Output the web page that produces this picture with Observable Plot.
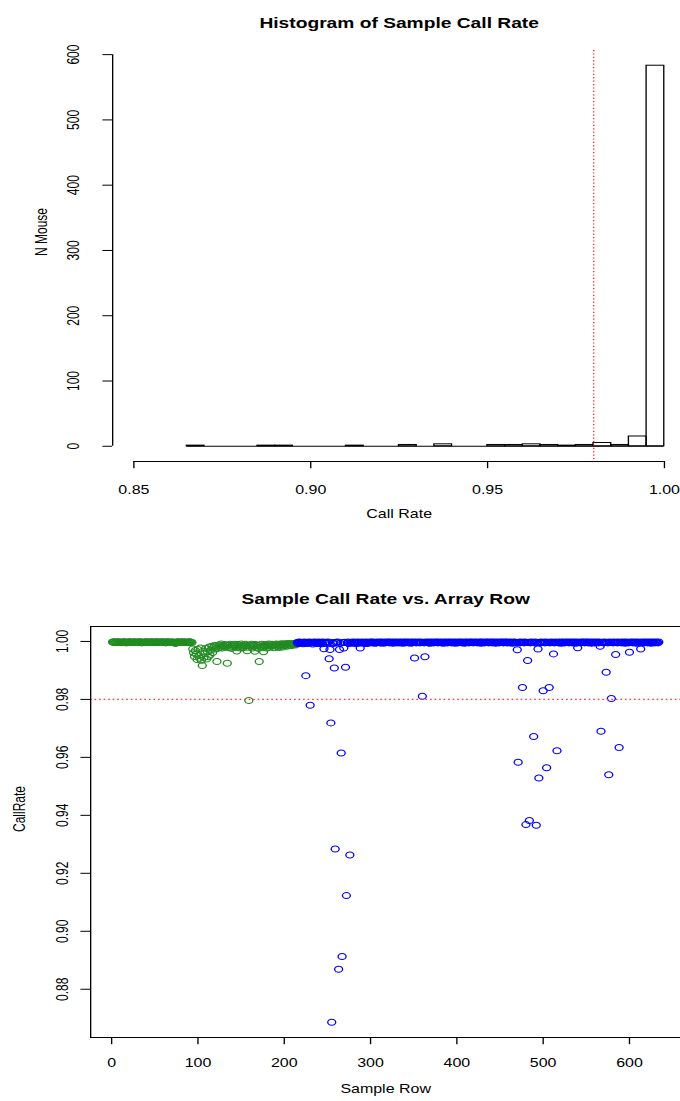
<!DOCTYPE html>
<html>
<head>
<meta charset="utf-8">
<script src="https://cdn.jsdelivr.net/npm/d3@7"></script>
<script src="https://cdn.jsdelivr.net/npm/@observablehq/plot@0.6"></script>
<style>
html, body { margin: 0; padding: 0; background: #ffffff; }
#chart { width: 680px; }
#chart svg { display: block; }
</style>
</head>
<body>
<div id="chart"></div>
<script>
// ---------------- Histogram data ----------------
const histTitle = "Histogram of Sample Call Rate";
const histXLabel = "Call Rate";
const histYLabel = "N Mouse";
const histBinEdges = [0.865, 0.870, 0.875, 0.880, 0.885, 0.890, 0.895, 0.900, 0.905, 0.910,
  0.915, 0.920, 0.925, 0.930, 0.935, 0.940, 0.945, 0.950, 0.955, 0.960,
  0.965, 0.970, 0.975, 0.980, 0.985, 0.990, 0.995, 1.000];
const histCounts = [1, 0, 0, 0, 1, 1, 0, 0, 0, 1,
  0, 0, 2, 0, 3, 0, 0, 2, 2, 3,
  2, 1, 2, 5, 2, 15, 583];
const histXLim = [0.85, 1.00];
const histXTicks = [0.85, 0.90, 0.95, 1.00];
const histYTicks = [0, 100, 200, 300, 400, 500, 600];
const callRateCutoff = 0.98;

// ---------------- Scatter data ----------------
const scatterTitle = "Sample Call Rate vs. Array Row";
const scatterXLabel = "Sample Row";
const scatterYLabel = "CallRate";
const scatterXTicks = [0, 100, 200, 300, 400, 500, 600];
const scatterYTicks = [0.88, 0.90, 0.92, 0.94, 0.96, 0.98, 1.00];
const arraySizes = [214, 420];           // rows per array (green, blue)
const arrayColors = ["#228B22", "#0000FF"];
// call rate per sample row (row = position + 1)
const callRate = [
  .9998,.9997,.9999,.9996,.9998,.9997,.9998,.9999,.9997,.9996, // 1-10
  .9997,.9998,.9996,.9999,.9998,.9997,.9995,.9998,.9997,.9998, // 11-20
  .9999,.9997,.9998,.9996,.9997,.9998,.9999,.9997,.9996,.9998, // 21-30
  .9997,.9998,.9999,.9997,.9995,.9998,.9997,.9996,.9998,.9999, // 31-40
  .9998,.9997,.9996,.9998,.9997,.9999,.9998,.9996,.9997,.9998, // 41-50
  .9997,.9999,.9998,.9996,.9997,.9998,.9997,.9999,.9996,.9998, // 51-60
  .9998,.9997,.9995,.9998,.9999,.9997,.9996,.9998,.9997,.9998, // 61-70
  .9997,.9998,.9996,.9993,.9997,.9998,.9999,.9997,.9996,.9998, // 71-80
  .9998,.9997,.9999,.9996,.9998,.9997,.9998,.9996,.9997,.9999, // 81-90
  .9998,.9997,.9996,.9974,.9961,.9948,.9969,.9956,.9938,.9972, // 91-100
  .9951,.9942,.9977,.9935,.9917,.9966,.9945,.9958,.9976,.9939, // 101-110
  .9964,.9947,.9981,.9953,.9970,.9983,.9962,.9979,.9986,.9974, // 111-120
  .9981,.9931,.9976,.9988,.9979,.9984,.9991,.9977,.9986,.9982, // 121-130
  .9989,.9980,.9985,.9925,.9987,.9978,.9990,.9983,.9976,.9988, // 131-140
  .9982,.9990,.9986,.9979,.9967,.9989,.9981,.9987,.9977,.9991, // 141-150
  .9984,.9978,.9988,.9982,.9990,.9985,.9968,.9980,.9796,.9987, // 151-160
  .9983,.9990,.9977,.9988,.9984,.9966,.9989,.9979,.9986,.9976, // 161-170
  .9931,.9988,.9982,.9990,.9978,.9964,.9987,.9983,.9989,.9977, // 171-180
  .9985,.9991,.9980,.9988,.9983,.9990,.9986,.9978,.9989,.9984, // 181-190
  .9991,.9982,.9988,.9979,.9990,.9986,.9992,.9981,.9989,.9991, // 191-200
  .9986,.9992,.9983,.9990,.9993,.9987,.9991,.9985,.9992,.9989, // 201-210
  .9993,.9990,.9988,.9992,.9996,.9993,.9998,.9995,.9997,.9994, // 211-220
  .9996,.9992,.9998,.9995,.9882,.9997,.9993,.9996,.9998,.9780, // 221-230
  .9995,.9997,.9991,.9996,.9998,.9994,.9997,.9995,.9993,.9998, // 231-240
  .9996,.9994,.9997,.9992,.9998,.9975,.9996,.9994,.9997,.9995, // 241-250
  .9998,.9940,.9972,.9719,.8686,.9996,.9993,.9908,.9284,.9997, // 251-260
  .9995,.9998,.8869,.9972,.9994,.9615,.8913,.9996,.9977,.9997, // 261-270
  .9911,.9123,.9995,.9998,.9993,.9263,.9996,.9997,.9994,.9998, // 271-280
  .9995,.9997,.9993,.9996,.9998,.9994,.9997,.9977,.9995,.9998, // 281-290
  .9996,.9994,.9997,.9995,.9998,.9993,.9996,.9997,.9995,.9998, // 291-300
  .9997,.9995,.9998,.9996,.9994,.9997,.9995,.9998,.9996,.9997, // 301-310
  .9995,.9998,.9997,.9994,.9996,.9998,.9995,.9997,.9996,.9998, // 311-320
  .9997,.9995,.9998,.9996,.9997,.9994,.9998,.9996,.9997,.9995, // 321-330
  .9998,.9996,.9995,.9997,.9998,.9996,.9994,.9997,.9998,.9995, // 331-340
  .9996,.9998,.9997,.9995,.9996,.9998,.9994,.9997,.9996,.9998, // 341-350
  .9943,.9997,.9995,.9998,.9996,.9997,.9995,.9998,.9996,.9811, // 351-360
  .9997,.9995,.9947,.9998,.9996,.9997,.9995,.9998,.9994,.9997, // 361-370
  .9996,.9998,.9995,.9997,.9996,.9998,.9997,.9995,.9998,.9996, // 371-380
  .9997,.9995,.9998,.9996,.9994,.9997,.9998,.9996,.9995,.9997, // 381-390
  .9998,.9996,.9997,.9995,.9998,.9996,.9997,.9994,.9998,.9996, // 391-400
  .9995,.9997,.9998,.9996,.9997,.9995,.9998,.9996,.9994,.9997, // 401-410
  .9998,.9996,.9997,.9995,.9998,.9997,.9996,.9998,.9995,.9997, // 411-420
  .9996,.9998,.9997,.9995,.9996,.9998,.9997,.9994,.9998,.9996, // 421-430
  .9997,.9995,.9998,.9996,.9997,.9998,.9995,.9996,.9998,.9997, // 431-440
  .9995,.9998,.9996,.9997,.9994,.9998,.9996,.9997,.9995,.9998, // 441-450
  .9996,.9997,.9998,.9995,.9996,.9998,.9997,.9995,.9998,.9996, // 451-460
  .9997,.9995,.9998,.9996,.9994,.9997,.9998,.9996,.9995,.9971, // 461-470
  .9583,.9997,.9995,.9998,.9996,.9841,.9997,.9995,.9998,.9368, // 471-480
  .9996,.9934,.9997,.9382,.9995,.9998,.9996,.9997,.9672,.9995, // 481-490
  .9998,.9366,.9996,.9974,.9529,.9997,.9995,.9998,.9996,.9830, // 491-500
  .9997,.9995,.9998,.9564,.9996,.9997,.9841,.9995,.9998,.9996, // 501-510
  .9997,.9957,.9995,.9998,.9996,.9623,.9997,.9995,.9998,.9996, // 511-520
  .9994,.9997,.9998,.9996,.9995,.9997,.9998,.9996,.9997,.9995, // 521-530
  .9998,.9996,.9997,.9995,.9998,.9996,.9997,.9994,.9998,.9978, // 531-540
  .9996,.9997,.9995,.9998,.9996,.9997,.9998,.9995,.9996,.9998, // 541-550
  .9997,.9995,.9998,.9996,.9997,.9994,.9998,.9996,.9997,.9995, // 551-560
  .9998,.9996,.9997,.9995,.9998,.9983,.9690,.9996,.9997,.9995, // 561-570
  .9998,.9996,.9894,.9997,.9995,.9540,.9998,.9996,.9803,.9997, // 571-580
  .9995,.9998,.9996,.9955,.9997,.9995,.9998,.9634,.9996,.9997, // 581-590
  .9995,.9998,.9996,.9997,.9994,.9998,.9996,.9997,.9995,.9963, // 591-600
  .9998,.9996,.9997,.9995,.9998,.9996,.9997,.9994,.9998,.9996, // 601-610
  .9997,.9995,.9974,.9998,.9996,.9997,.9995,.9998,.9996,.9997, // 611-620
  .9995,.9998,.9996,.9997,.9994,.9998,.9996,.9997,.9995,.9998, // 621-630
  .9996,.9997,.9995,.9998                                      // 631-634
];

// ---------------- Layout helpers ----------------
const FONT = "'Liberation Sans', Arial, Helvetica, sans-serif";
const VW = 510;          // virtual drawing width, stretched to 680 px
const PAGE_W = 680;
function pad4(ext) { const d = (ext[1] - ext[0]) * 0.04; return [ext[0] - d, ext[1] + d]; }
function stretch(svg, h) {
  svg.setAttribute("width", PAGE_W);
  svg.setAttribute("height", h);
  svg.setAttribute("viewBox", `0 0 ${VW} ${h}`);
  svg.setAttribute("preserveAspectRatio", "none");
  svg.style.width = PAGE_W + "px";
  svg.style.height = h + "px";
  svg.style.maxWidth = "none";
  return svg;
}
const baseStyle = {fontFamily: FONT, fontSize: "12px", background: "white", color: "black", overflow: "visible"};
const cutoffStyle = {stroke: "#FF3030", strokeDasharray: "1.2,2.2", strokeWidth: 1.1, strokeLinecap: "butt"};

// ---------------- Histogram ----------------
const hx = pad4(histXLim);
const hy = pad4([0, d3.max(histCounts)]);
const bins = histCounts.map((c, i) => ({x1: histBinEdges[i], x2: histBinEdges[i + 1], n: c}));
const hMid = (hx[0] + hx[1]) / 2;

const topPlot = Plot.plot({
  width: VW, height: 550,
  marginLeft: 84, marginRight: 0, marginTop: 50, marginBottom: 89,
  style: baseStyle,
  x: {domain: hx, range: [84, 513.75]},
  y: {domain: hy},
  marks: [
    Plot.rect(bins, {x1: "x1", x2: "x2", y1: 0, y2: "n", fill: "none", stroke: "black", strokeWidth: 1, inset: 0}),
    Plot.ruleY([0], {x1: histBinEdges[0], x2: histBinEdges[histBinEdges.length - 1], stroke: "black", strokeWidth: 1}),
    Plot.ruleX([callRateCutoff], cutoffStyle),
    Plot.ruleY([hy[0]], {x1: histXTicks[0], x2: histXTicks[histXTicks.length - 1], stroke: "black"}),
    Plot.ruleX([hx[0]], {y1: histYTicks[0], y2: histYTicks[histYTicks.length - 1], stroke: "black"}),
    Plot.axisX({ticks: histXTicks, tickSize: 7.2, tickPadding: 16.5, tickFormat: d3.format(".2f"), label: null}),
    Plot.axisY({ticks: histYTicks, tickSize: 7.2, tickPadding: 18, tickRotate: -90, tickFormat: d => String(d), label: null}),
    Plot.text([{x: hMid, t: histTitle}], {x: "x", text: "t", frameAnchor: "top", dy: -33, fontSize: 14.4, fontWeight: "bold"}),
    Plot.text([{x: hMid, t: histXLabel}], {x: "x", text: "t", frameAnchor: "bottom", dy: 56}),
    Plot.text([histYLabel], {text: d => d, frameAnchor: "left", dx: -53, rotate: -90})
  ]
});

// ---------------- Scatter ----------------
const pts = callRate.map((v, i) => ({row: i + 1, rate: v, grp: i < arraySizes[0] ? 0 : 1}));
const sx = pad4(d3.extent(pts, d => d.row));
const sy = pad4(d3.extent(callRate));
const sMid = (sx[0] + sx[1]) / 2;

const bottomPlot = Plot.plot({
  width: VW, height: 551,
  marginLeft: 67.5, marginRight: 0, marginTop: 76, marginBottom: 64,
  style: baseStyle,
  x: {domain: sx, range: [67.5, 510]},
  y: {domain: sy},
  marks: [
    Plot.dot(pts.filter(d => d.grp === 0), {x: "row", y: "rate", r: 3, fill: "none", stroke: arrayColors[0], strokeWidth: 1}),
    Plot.dot(pts.filter(d => d.grp === 1), {x: "row", y: "rate", r: 3, fill: "none", stroke: arrayColors[1], strokeWidth: 1}),
    Plot.ruleY([callRateCutoff], cutoffStyle),
    Plot.ruleY([sy[1]], {stroke: "black"}),
    Plot.ruleY([sy[0]], {stroke: "black"}),
    Plot.ruleX([sx[0]], {stroke: "black"}),
    Plot.axisX({ticks: scatterXTicks, tickSize: 7.2, tickPadding: 14, tickFormat: d => String(d), label: null}),
    Plot.axisY({ticks: scatterYTicks, tickSize: 7.2, tickPadding: 10, tickRotate: -90, tickFormat: d3.format(".2f"), label: null}),
    Plot.text([{x: sMid, t: scatterTitle}], {x: "x", text: "t", frameAnchor: "top", dy: -33, fontSize: 14.4, fontWeight: "bold"}),
    Plot.text([{x: sMid, t: scatterXLabel}], {x: "x", text: "t", frameAnchor: "bottom", dy: 55}),
    Plot.text([scatterYLabel], {text: d => d, frameAnchor: "left", dx: -53, rotate: -90})
  ]
});

const chart = document.getElementById("chart");
chart.appendChild(stretch(topPlot, 550));
chart.appendChild(stretch(bottomPlot, 551));
</script>
</body>
</html>
